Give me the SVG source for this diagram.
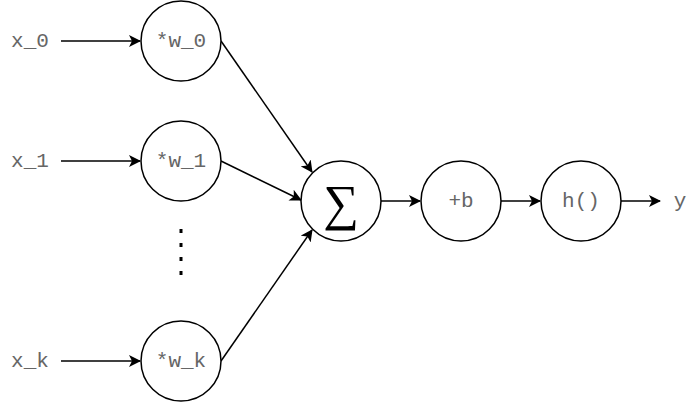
<svg xmlns="http://www.w3.org/2000/svg" width="700" height="402" viewBox="0 0 700 402">
<defs><marker id="a" viewBox="0 0 12 12" refX="11" refY="6" markerWidth="12" markerHeight="12" markerUnits="userSpaceOnUse" orient="auto"><path d="M0,0 L12,6 L0,12 L3,6 Z" fill="#000"/></marker></defs>
<style>
.n{fill:#fff;stroke:#000;stroke-width:1.5}
.t{font-family:"Liberation Mono",monospace;font-size:21px;fill:#666;text-anchor:middle;dominant-baseline:central}
.s{font-size:21px}
.c{stroke:#000;stroke-width:1.5;fill:none;marker-end:url(#a)}
</style>
<rect width="700" height="402" fill="#fff"/>
<text class="t" x="30" y="41">x_0</text>
<text class="t" x="30" y="161">x_1</text>
<text class="t" x="30" y="361">x_k</text>
<text class="t" x="680" y="201">y</text>
<g id="connectors">
<path class="c" d="M61 41H140"/>
<path class="c" d="M61 161H140"/>
<path class="c" d="M61 361H140"/>
<path class="c" d="M221 41L312 172"/>
<path class="c" d="M221 161L301 200"/>
<path class="c" d="M221 361L312 230"/>
<path class="c" d="M381 201H420"/>
<path class="c" d="M501 201H540"/>
<path class="c" d="M621 201H660"/>
</g>
<g id="w0"><circle class="n" cx="181" cy="41" r="40"/><text class="t s" x="181" y="41">*w_0</text></g>
<g id="w1"><circle class="n" cx="181" cy="161" r="40"/><text class="t s" x="181" y="161">*w_1</text></g>
<g id="wk"><circle class="n" cx="181" cy="361" r="40"/><text class="t s" x="181" y="361">*w_k</text></g>
<g id="dots"><path d="M181 229V281" stroke="#000" stroke-width="3" stroke-dasharray="4 10"/></g>
<g id="sum"><circle class="n" cx="341" cy="201" r="40"/><text x="341" y="203" font-family="Liberation Serif,serif" font-size="50" text-anchor="middle" dominant-baseline="central">∑</text></g>
<g id="b"><circle class="n" cx="461" cy="201" r="40"/><text class="t s" x="461" y="201">+b</text></g>
<g id="h"><circle class="n" cx="581" cy="201" r="40"/><text class="t s" x="581" y="201">h()</text></g>
</svg>
